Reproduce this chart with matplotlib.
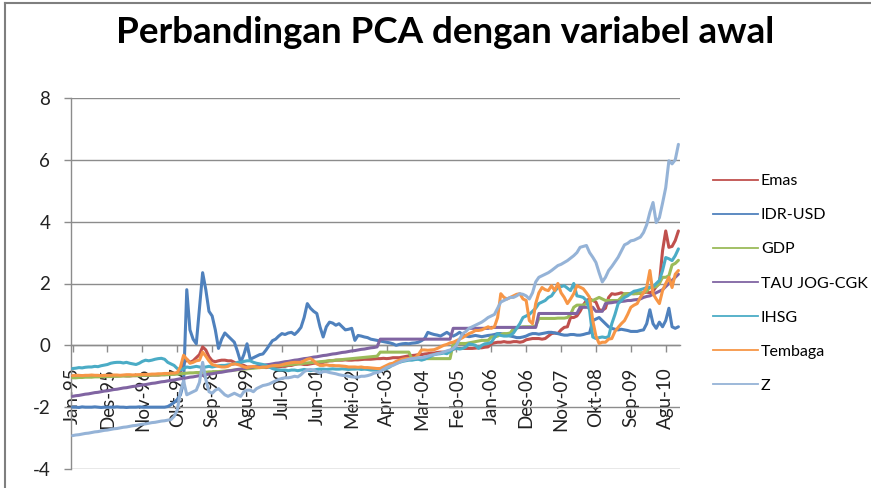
import numpy as np
import matplotlib
matplotlib.use("Agg")
import matplotlib.pyplot as plt
from matplotlib.lines import Line2D

# ---------------- data (monthly, Jan-95 .. Dec-10) ----------------
tick_labels = ["Jan-95", "Des-95", "Nov-96", "Okt-97", "Sep-98", "Agu-99", "Jul-00",
               "Jun-01", "Mei-02", "Apr-03", "Mar-04", "Feb-05", "Jan-06", "Des-06",
               "Nov-07", "Okt-08", "Sep-09", "Agu-10"]
tick_step = 11

emas = [
    -1.00, -1.00, -0.99, -0.99, -1.00, -1.00, -1.01, -1.00, -0.99, -0.99, -1.00, -1.00,
    -1.00, -0.99, -0.99, -0.98, -0.98, -0.99, -0.99, -0.98, -0.98, -0.97, -0.97, -0.97,
    -0.97, -0.96, -0.96, -0.96, -0.95, -0.95, -0.94, -0.93, -0.92, -0.90, -0.85, -0.60,
    -0.45, -0.55, -0.50, -0.40, -0.30, -0.05, -0.15, -0.37, -0.50, -0.53, -0.50, -0.48,
    -0.48, -0.50, -0.50, -0.55, -0.60, -0.62, -0.65, -0.70, -0.70, -0.72, -0.70, -0.70,
    -0.70, -0.72, -0.70, -0.68, -0.70, -0.70, -0.68, -0.68, -0.65, -0.65, -0.62, -0.60,
    -0.60, -0.62, -0.62, -0.60, -0.58, -0.57, -0.55, -0.55, -0.52, -0.50, -0.50, -0.48,
    -0.48, -0.48, -0.47, -0.48, -0.48, -0.47, -0.47, -0.46, -0.45, -0.45, -0.45, -0.44,
    -0.43, -0.43, -0.42, -0.43, -0.42, -0.40, -0.40, -0.40, -0.38, -0.36, -0.34, -0.33,
    -0.32, -0.30, -0.30, -0.28, -0.27, -0.25, -0.25, -0.23, -0.22, -0.22, -0.20, -0.18,
    -0.12, -0.10, -0.10, -0.10, -0.10, -0.10, -0.10, -0.09, -0.08, -0.08, -0.06, -0.05,
    0.05, 0.08, 0.10, 0.10, 0.12, 0.10, 0.10, 0.12, 0.12, 0.10, 0.12, 0.18,
    0.20, 0.22, 0.22, 0.22, 0.20, 0.22, 0.30, 0.38, 0.40, 0.38, 0.50, 0.58,
    0.60, 0.90, 0.90, 0.95, 1.10, 1.30, 1.45, 1.50, 1.45, 1.40, 1.15, 1.13,
    1.20, 1.55, 1.67, 1.65, 1.67, 1.70, 1.65, 1.67, 1.68, 1.67, 1.70, 1.68,
    1.70, 1.72, 1.70, 1.75, 1.90, 2.00, 3.06, 3.70, 3.17, 3.20, 3.39, 3.70,
]

idr_usd = [
    -2.00, -2.00, -2.01, -1.99, -2.00, -2.00, -2.00, -1.99, -2.00, -2.01, -2.00, -2.00,
    -2.00, -2.00, -1.99, -2.00, -2.00, -2.01, -2.00, -2.00, -2.00, -1.99, -2.00, -2.00,
    -2.00, -2.00, -2.00, -2.00, -2.00, -2.00, -1.98, -1.92, -1.85, -1.75, -1.60, -1.20,
    1.80, 0.50, 0.20, 0.05, 1.20, 2.35, 1.80, 1.10, 0.95, 0.50, -0.10, 0.20,
    0.40, 0.30, 0.20, 0.10, -0.20, -0.55, -0.30, 0.05, -0.45, -0.40, -0.35, -0.30,
    -0.28, -0.15, 0.00, 0.15, 0.20, 0.30, 0.38, 0.35, 0.40, 0.42, 0.35, 0.45,
    0.58, 0.90, 1.35, 1.20, 1.10, 1.03, 0.60, 0.27, 0.60, 0.75, 0.72, 0.65,
    0.70, 0.60, 0.50, 0.52, 0.55, 0.16, 0.32, 0.30, 0.27, 0.25, 0.20, 0.18,
    0.16, 0.14, 0.12, 0.10, 0.08, 0.05, 0.00, 0.03, 0.05, 0.06, 0.05, 0.07,
    0.08, 0.10, 0.15, 0.22, 0.42, 0.38, 0.35, 0.33, 0.30, 0.36, 0.42, 0.35,
    0.30, 0.35, 0.42, 0.35, 0.30, 0.28, 0.30, 0.32, 0.30, 0.28, 0.30, 0.32,
    0.33, 0.35, 0.38, 0.38, 0.36, 0.33, 0.30, 0.28, 0.25, 0.25, 0.27, 0.30,
    0.35, 0.38, 0.38, 0.36, 0.38, 0.40, 0.42, 0.42, 0.40, 0.38, 0.35, 0.33,
    0.33, 0.35, 0.35, 0.33, 0.33, 0.35, 0.38, 0.40, 0.80, 0.85, 0.90, 0.80,
    0.70, 0.60, 0.55, 0.52, 0.50, 0.52, 0.50, 0.48, 0.45, 0.45, 0.45, 0.48,
    0.50, 0.70, 1.15, 0.70, 0.55, 0.75, 0.60, 0.80, 1.20, 0.60, 0.55, 0.60,
]

gdp = [
    -1.05, -1.05, -1.04, -1.04, -1.03, -1.03, -1.03, -1.02, -1.02, -1.02, -1.01, -1.01,
    -1.01, -1.00, -1.00, -1.00, -0.99, -0.99, -0.99, -0.98, -0.98, -0.98, -0.97, -0.97,
    -0.97, -0.96, -0.96, -0.96, -0.95, -0.95, -0.95, -0.94, -0.94, -0.93, -0.92, -0.91,
    -0.90, -0.89, -0.89, -0.88, -0.88, -0.87, -0.87, -0.86, -0.86, -0.85, -0.85, -0.84,
    -0.83, -0.82, -0.81, -0.80, -0.79, -0.78, -0.77, -0.76, -0.75, -0.74, -0.73, -0.72,
    -0.71, -0.70, -0.69, -0.68, -0.67, -0.66, -0.65, -0.64, -0.63, -0.62, -0.61, -0.60,
    -0.59, -0.58, -0.57, -0.56, -0.55, -0.54, -0.53, -0.52, -0.51, -0.50, -0.49, -0.48,
    -0.47, -0.46, -0.45, -0.44, -0.43, -0.42, -0.41, -0.40, -0.39, -0.38, -0.37, -0.36,
    -0.35, -0.22, -0.22, -0.22, -0.22, -0.22, -0.22, -0.22, -0.22, -0.22, -0.22, -0.43,
    -0.43, -0.43, -0.43, -0.43, -0.43, -0.43, -0.43, -0.43, -0.43, -0.43, -0.43, -0.43,
    0.05, 0.05, 0.06, 0.06, 0.06, 0.08, 0.10, 0.12, 0.14, 0.16, 0.16, 0.16,
    0.27, 0.27, 0.30, 0.35, 0.38, 0.38, 0.40, 0.54, 0.56, 0.58, 0.60, 0.60,
    0.60, 0.60, 0.62, 0.87, 0.87, 0.87, 0.87, 0.87, 0.87, 0.88, 0.88, 0.88,
    0.90, 1.00, 1.23, 1.30, 1.30, 1.30, 1.35, 1.45, 1.45, 1.50, 1.55, 1.50,
    1.45, 1.45, 1.45, 1.45, 1.45, 1.55, 1.67, 1.67, 1.67, 1.67, 1.67, 1.70,
    1.70, 1.75, 1.87, 1.87, 1.90, 2.00, 2.20, 2.20, 2.25, 2.60, 2.65, 2.75,
]

tau_jog_cgk = [
    -1.65, -1.63, -1.62, -1.60, -1.58, -1.57, -1.55, -1.53, -1.52, -1.50, -1.48, -1.47,
    -1.45, -1.43, -1.42, -1.40, -1.38, -1.37, -1.35, -1.33, -1.32, -1.30, -1.28, -1.27,
    -1.25, -1.23, -1.22, -1.20, -1.18, -1.17, -1.15, -1.13, -1.12, -1.10, -1.08, -1.07,
    -1.05, -1.03, -1.02, -1.00, -0.98, -0.97, -0.95, -0.93, -0.92, -0.90, -0.88, -0.87,
    -0.85, -0.83, -0.82, -0.80, -0.78, -0.77, -0.75, -0.73, -0.72, -0.70, -0.68, -0.67,
    -0.65, -0.63, -0.62, -0.60, -0.58, -0.57, -0.55, -0.53, -0.52, -0.50, -0.48, -0.47,
    -0.45, -0.43, -0.42, -0.40, -0.38, -0.37, -0.35, -0.33, -0.32, -0.30, -0.28, -0.27,
    -0.25, -0.23, -0.22, -0.20, -0.18, -0.17, -0.15, -0.13, -0.12, -0.10, -0.08, -0.07,
    -0.05, 0.20, 0.20, 0.20, 0.20, 0.20, 0.20, 0.20, 0.20, 0.20, 0.20, 0.20,
    0.20, 0.20, 0.20, 0.20, 0.20, 0.20, 0.20, 0.20, 0.20, 0.20, 0.20, 0.20,
    0.55, 0.55, 0.55, 0.55, 0.55, 0.55, 0.55, 0.55, 0.55, 0.55, 0.55, 0.55,
    0.58, 0.58, 0.58, 0.58, 0.58, 0.58, 0.58, 0.58, 0.58, 0.58, 0.58, 0.58,
    0.58, 0.58, 0.58, 1.03, 1.03, 1.03, 1.03, 1.03, 1.03, 1.03, 1.03, 1.03,
    1.03, 1.03, 1.03, 1.03, 1.23, 1.23, 1.23, 1.23, 1.23, 1.10, 1.10, 1.10,
    1.35, 1.37, 1.38, 1.40, 1.40, 1.42, 1.43, 1.45, 1.45, 1.47, 1.48, 1.50,
    1.55, 1.58, 1.60, 1.65, 1.70, 1.75, 1.80, 1.90, 2.00, 2.10, 2.20, 2.30,
]

ihsg = [
    -0.75, -0.74, -0.72, -0.73, -0.71, -0.70, -0.70, -0.68, -0.69, -0.66, -0.64, -0.62,
    -0.58, -0.56, -0.55, -0.55, -0.57, -0.55, -0.58, -0.60, -0.62, -0.58, -0.52, -0.48,
    -0.50, -0.48, -0.45, -0.43, -0.42, -0.45, -0.55, -0.60, -0.65, -0.75, -0.80, -0.75,
    -0.70, -0.72, -0.70, -0.68, -0.70, -0.72, -0.70, -0.68, -0.70, -0.68, -0.66, -0.65,
    -0.65, -0.63, -0.62, -0.60, -0.55, -0.55, -0.52, -0.50, -0.50, -0.55, -0.58, -0.60,
    -0.62, -0.65, -0.70, -0.75, -0.78, -0.80, -0.80, -0.80, -0.82, -0.80, -0.80, -0.82,
    -0.80, -0.78, -0.80, -0.82, -0.80, -0.78, -0.77, -0.77, -0.78, -0.77, -0.76, -0.77,
    -0.77, -0.76, -0.77, -0.78, -0.77, -0.77, -0.76, -0.78, -0.77, -0.78, -0.80, -0.80,
    -0.80, -0.80, -0.78, -0.75, -0.70, -0.62, -0.58, -0.55, -0.52, -0.50, -0.48, -0.48,
    -0.46, -0.45, -0.48, -0.45, -0.40, -0.35, -0.30, -0.28, -0.27, -0.25, -0.27, -0.20,
    -0.12, -0.10, -0.12, -0.10, -0.05, 0.05, 0.03, 0.00, -0.10, 0.00, 0.05, 0.06,
    0.10, 0.25, 0.38, 0.32, 0.30, 0.30, 0.32, 0.40, 0.55, 0.70, 0.90, 0.95,
    1.00, 1.10, 1.20, 1.35, 1.40, 1.45, 1.55, 1.60, 1.75, 1.87, 1.90, 1.93,
    1.85, 1.77, 2.00, 1.60, 1.58, 1.55, 1.45, 1.13, 0.27, 0.22, 0.25, 0.27,
    0.25, 0.28, 0.70, 1.00, 1.35, 1.45, 1.55, 1.60, 1.68, 1.75, 1.77, 1.80,
    1.83, 1.87, 1.88, 1.90, 2.00, 2.10, 2.42, 2.84, 2.80, 2.74, 2.90, 3.12,
]

tembaga = [
    -0.98, -0.97, -0.97, -0.98, -0.97, -0.97, -0.96, -0.97, -0.97, -0.98, -0.97, -0.97,
    -0.97, -0.96, -0.96, -0.97, -0.96, -0.95, -0.95, -0.96, -0.95, -0.95, -0.94, -0.94,
    -0.94, -0.93, -0.93, -0.92, -0.92, -0.91, -0.91, -0.90, -0.90, -0.88, -0.70, -0.32,
    -0.45, -0.58, -0.55, -0.50, -0.48, -0.22, -0.35, -0.50, -0.62, -0.65, -0.68, -0.70,
    -0.70, -0.68, -0.62, -0.60, -0.62, -0.65, -0.70, -0.72, -0.70, -0.68, -0.70, -0.72,
    -0.70, -0.70, -0.68, -0.66, -0.65, -0.65, -0.63, -0.60, -0.58, -0.56, -0.55, -0.55,
    -0.55, -0.50, -0.45, -0.43, -0.50, -0.60, -0.65, -0.65, -0.63, -0.65, -0.65, -0.66,
    -0.66, -0.67, -0.68, -0.70, -0.70, -0.70, -0.71, -0.70, -0.72, -0.72, -0.73, -0.74,
    -0.75, -0.75, -0.70, -0.65, -0.60, -0.58, -0.52, -0.48, -0.45, -0.43, -0.43, -0.42,
    -0.40, -0.30, -0.15, -0.15, -0.16, -0.15, -0.14, -0.10, -0.05, 0.00, 0.03, 0.08,
    0.10, 0.15, 0.20, 0.25, 0.32, 0.38, 0.42, 0.48, 0.48, 0.50, 0.55, 0.60,
    0.55, 0.60, 0.90, 1.67, 1.55, 1.50, 1.55, 1.60, 1.65, 1.67, 1.50, 1.45,
    0.80, 0.70, 1.35, 1.70, 1.87, 1.80, 1.77, 1.93, 1.77, 2.00, 1.70, 1.55,
    1.35, 1.50, 1.67, 1.93, 1.88, 1.83, 1.70, 1.55, 0.80, 0.30, 0.06, 0.10,
    0.10, 0.20, 0.22, 0.45, 0.58, 0.70, 0.80, 1.00, 1.23, 1.30, 1.35, 1.55,
    1.70, 1.87, 2.42, 1.67, 1.50, 1.35, 1.77, 2.00, 2.20, 1.87, 2.30, 2.42,
]

z = [
    -2.92, -2.90, -2.89, -2.87, -2.85, -2.84, -2.82, -2.80, -2.79, -2.77, -2.75, -2.74,
    -2.72, -2.70, -2.69, -2.67, -2.65, -2.64, -2.62, -2.60, -2.59, -2.57, -2.55, -2.54,
    -2.52, -2.50, -2.49, -2.47, -2.45, -2.44, -2.42, -2.40, -2.30, -2.10, -1.50, -1.15,
    -1.60, -1.55, -1.50, -1.45, -1.20, -0.55, -1.10, -1.50, -1.55, -1.45, -1.40, -1.50,
    -1.60, -1.65, -1.60, -1.55, -1.60, -1.65, -1.50, -1.45, -1.45, -1.50, -1.40, -1.35,
    -1.30, -1.28, -1.25, -1.20, -1.15, -1.10, -1.07, -1.05, -1.05, -1.03, -1.00, -1.02,
    -0.95, -0.85, -0.80, -0.78, -0.80, -0.85, -0.90, -0.85, -0.85, -0.88, -0.90, -0.92,
    -0.95, -0.97, -0.98, -1.00, -1.02, -1.03, -1.03, -1.00, -1.00, -0.98, -0.95, -0.90,
    -0.88, -0.85, -0.78, -0.72, -0.68, -0.65, -0.60, -0.55, -0.50, -0.48, -0.45, -0.43,
    -0.42, -0.40, -0.40, -0.38, -0.35, -0.32, -0.30, -0.27, -0.25, -0.22, -0.18, -0.15,
    -0.10, 0.00, 0.20, 0.38, 0.45, 0.55, 0.60, 0.65, 0.70, 0.75, 0.82, 0.90,
    0.95, 1.00, 1.20, 1.40, 1.45, 1.50, 1.55, 1.55, 1.60, 1.67, 1.65, 1.60,
    1.50, 1.70, 2.05, 2.20, 2.25, 2.30, 2.35, 2.42, 2.50, 2.58, 2.62, 2.68,
    2.74, 2.82, 2.90, 3.00, 3.17, 3.20, 3.23, 3.00, 2.85, 2.68, 2.35, 2.05,
    2.20, 2.42, 2.55, 2.70, 2.85, 3.05, 3.25, 3.30, 3.38, 3.40, 3.45, 3.50,
    3.65, 3.90, 4.30, 4.62, 3.97, 4.13, 4.60, 5.10, 5.97, 5.87, 6.00, 6.50,
]

series_names = ["Emas", "IDR-USD", "GDP", "TAU JOG-CGK", "IHSG", "Tembaga", "Z"]
series_values = [emas, idr_usd, gdp, tau_jog_cgk, ihsg, tembaga, z]
series_colors = ["#C0504D", "#4F81BD", "#9BBB59", "#8064A2", "#4BACC6", "#F79646", "#95B3D7"]

title = "Perbandingan PCA dengan variabel awal"

# ---------------- figure ----------------
plt.rcParams["font.family"] = ["Lato", "DejaVu Sans"]
W, H = 871, 488
fig = plt.figure(figsize=(W / 100, H / 100), dpi=100)
fig.patch.set_facecolor("white")

ax = fig.add_axes([71 / W, 19 / H, 609 / W, 371 / H])
grid_c = "#8c8c8c"

n = len(z)
xs = np.arange(n)
for name, vals, col in zip(series_names, series_values, series_colors):
    ax.plot(xs, vals, color=col, lw=2.2, solid_joinstyle="round", solid_capstyle="round",
            label=name, zorder=3)

ax.set_xlim(-0.5, n - 0.5)
ax.set_ylim(-4, 8)

for s in ("top", "right"):
    ax.spines[s].set_visible(False)
ax.spines["left"].set_color(grid_c)
ax.spines["left"].set_linewidth(1.0)
ax.spines["bottom"].set_position(("data", 0))
ax.spines["bottom"].set_color(grid_c)
ax.spines["bottom"].set_linewidth(1.0)

ax.set_yticks(np.arange(-4, 9, 2))
ax.set_yticklabels([f"{v:d}" for v in range(-4, 9, 2)])
ax.yaxis.grid(True, color=grid_c, lw=1.0)
ax.set_axisbelow(True)

tick_pos = np.arange(0, tick_step * len(tick_labels), tick_step)
ax.set_xticks(tick_pos)
ax.set_xticklabels(tick_labels)

ax.tick_params(axis="y", direction="out", length=5, width=1.0, color=grid_c,
               pad=10, labelsize=13.5, labelcolor="#222222")
ax.tick_params(axis="x", direction="out", length=5, width=1.0, color=grid_c,
               pad=11, labelsize=13.5, labelcolor="#222222", labelrotation=90)

# chart-area border (partially visible: left and top)
fig.add_artist(Line2D([5 / W, 5 / W], [0, 1 - 3 / H], transform=fig.transFigure,
                      color="#7f7f7f", lw=1.5))
fig.add_artist(Line2D([5 / W, 1], [1 - 3 / H, 1 - 3 / H], transform=fig.transFigure,
                      color="#7f7f7f", lw=1.5))

fig.text(445 / W, 1 - 43 / H, title, ha="center", va="baseline",
         fontsize=26.5, fontweight="bold", color="black")

handles = [Line2D([], [], color=c, lw=1.3) for c in series_colors]
fig.legend(handles, series_names, loc="upper left", bbox_to_anchor=(713 / W, 1 - 174 / H),
           frameon=False, fontsize=11.5, handlelength=2.8, handletextpad=0.2,
           labelspacing=1.25, borderpad=0, borderaxespad=0)

fig.savefig("out.png", dpi=100)
